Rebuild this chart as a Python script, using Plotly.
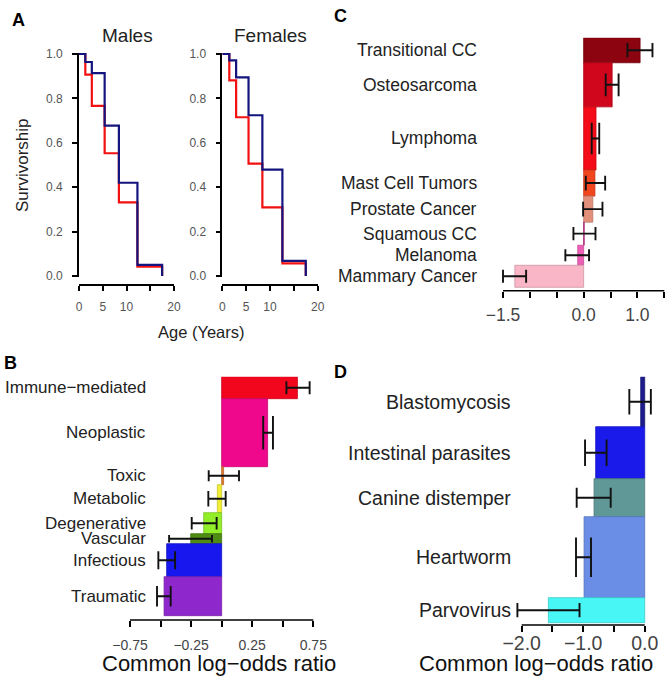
import plotly.graph_objects as go

W, H = 672, 682
FONT = "Liberation Sans, Arial, Helvetica, sans-serif"

# ---------------- data ----------------
# Panel A: survivorship (Kaplan-Meier style steps)
male_age = [0, 1.33, 2.7, 5.4, 8.4, 12.3, 17.5]
male_red = [1.0, 0.907, 0.766, 0.553, 0.332, 0.042, 0.0]
male_blue = [1.0, 0.964, 0.914, 0.677, 0.42, 0.05, 0.0]
female_age = [0, 1.47, 2.9, 5.5, 8.4, 12.6, 17.5]
female_red = [1.0, 0.881, 0.715, 0.506, 0.309, 0.057, 0.0]
female_blue = [1.0, 0.971, 0.895, 0.724, 0.479, 0.068, 0.0]
age_ticks = [0, 5, 10, 15, 20]
age_ticktext = ["0", "5", "10", "", "20"]
surv_ticks = [0, 0.2, 0.4, 0.6, 0.8, 1.0]

# Panel B: causes of death by organ-system process
b_labels = ["Immune\u2212mediated", "Neoplastic", "Toxic", "Metabolic",
            "Degenerative", "Vascular", "Infectious", "Traumatic"]
b_vals = [0.62, 0.376, 0.016, -0.035, -0.147, -0.253, -0.45, -0.471]
b_lo = [0.53, 0.34, -0.106, -0.109, -0.245, -0.43, -0.518, -0.529]
b_hi = [0.72, 0.42, 0.142, 0.033, -0.041, -0.079, -0.381, -0.417]
b_weight = [22, 68, 18, 28, 21, 10, 33, 39]
b_colors = ["#F2061E", "#F0088C", "#E27A30", "#F2EE36",
            "#92EE28", "#4E8C14", "#1818EE", "#8E28CC"]
b_ticks = [-0.75, -0.5, -0.25, 0, 0.25, 0.5, 0.75]
b_ticktext = ["\u22120.75", "", "\u22120.25", "", "0.25", "", "0.75"]

# Panel C: cancers
c_labels = ["Transitional CC", "Osteosarcoma", "Lymphoma", "Mast Cell Tumors",
            "Prostate Cancer", "Squamous CC", "Melanoma", "Mammary Cancer"]
c_vals = [1.05, 0.53, 0.23, 0.21, 0.17, 0.01, -0.11, -1.28]
c_lo = [0.815, 0.41, 0.15, 0.04, -0.01, -0.19, -0.34, -1.5]
c_hi = [1.28, 0.65, 0.29, 0.40, 0.35, 0.22, 0.10, -1.07]
c_weight = [25, 44, 63, 26, 26, 23, 20, 22]
c_colors = ["#8C0410", "#D0061C", "#F40C18", "#F2461E",
            "#E2907A", "#C8248C", "#EE5EB6", "#F8B6C6"]
c_ticks = [-1.5, -1.0, -0.5, 0, 0.5, 1.0, 1.5]
c_ticktext = ["\u22121.5", "", "", "0.0", "", "1.0", ""]

# Panel D: infectious diseases
d_labels = ["Blastomycosis", "Intestinal parasites", "Canine distemper",
            "Heartworm", "Parvovirus"]
d_vals = [-0.065, -0.797, -0.824, -0.986, -1.566]
d_lo = [-0.25, -0.97, -1.106, -1.117, -2.07]
d_hi = [0.10, -0.62, -0.553, -0.873, -1.06]
d_weight = [50, 52, 38, 81, 25]
d_colors = ["#1C1C8C", "#1A1AEA", "#609898", "#6A8EE6", "#48F6F6"]
d_ticks = [-2.0, -1.5, -1.0, -0.5, 0.0]
d_ticktext = ["\u22122.0", "", "\u22121.0", "", "0.0"]


def darker(hex_col, f=0.82):
    r, g, b = (int(hex_col[i:i + 2], 16) for i in (1, 3, 5))
    return "rgb(%d,%d,%d)" % (r * f, g * f, b * f)


def px_x(p):
    return p / W


def px_y(p):
    return 1 - p / H


fig = go.Figure()
layout = dict(
    width=W, height=H, margin=dict(l=0, r=0, t=0, b=0, autoexpand=False),
    paper_bgcolor="white", plot_bgcolor="white",
    showlegend=False, barmode="overlay",
    font=dict(family=FONT, color="#222"),
)
shapes = []
annotations = []

# ---------------- Panel A ----------------
a_y0, a_y1 = 276, 54            # pixel rows of 0.0 and 1.0
a_pad = 0.006
a_ppu = (a_y0 - a_y1)
a_ydom = [px_y(a_y0 + a_pad * a_ppu), px_y(a_y1 - a_pad * a_ppu)]

panels_a = [("", male_age, male_red, male_blue, (79, 174)),
            ("2", female_age, female_red, female_blue, (222.3, 317.7))]
for k, age, red, blue, (xl, xr) in panels_a:
    fig.add_trace(go.Scatter(x=age, y=red, mode="lines", line_shape="hv",
                             line=dict(color="#F21010", width=2.2),
                             xaxis="x" + k, yaxis="y" + k))
    fig.add_trace(go.Scatter(x=age, y=blue, mode="lines", line_shape="hv",
                             line=dict(color="#14147E", width=2.2),
                             xaxis="x" + k, yaxis="y" + k))
    layout["xaxis" + k] = dict(
        domain=[px_x(xl), px_x(xr)], range=[0, 20], anchor="free",
        position=px_y(285), showline=True, linecolor="black", linewidth=1.6,
        ticks="outside", ticklen=5, tickwidth=1.6, tickcolor="black",
        tickvals=age_ticks, ticktext=age_ticktext, showgrid=False,
        zeroline=False, tickfont=dict(size=12, color="#555"),
        ticklabelstandoff=6, automargin=False)
    layout["yaxis" + k] = dict(
        domain=a_ydom, range=[-a_pad, 1 + a_pad], anchor="x" + k,
        showline=True, linecolor="black", linewidth=1.6,
        ticks="outside", ticklen=5, tickwidth=1.6, tickcolor="black",
        tickvals=surv_ticks, tickformat=".1f", showgrid=False, zeroline=False,
        tickfont=dict(size=12, color="#555"), ticklabelstandoff=7,
        automargin=False)


# ---------------- Bar panels ----------------
def bar_panel(k, labels, vals, lo, hi, weight, colors, ticks, ticktext,
              tick_px, bar_px, axis_px, label_right, tick_size, label_size,
              tick_standoff):
    span = ticks[-1] - ticks[0]
    r0 = min(ticks[0], min(lo)) - 0.03 * span
    r1 = max(ticks[-1], max(hi)) + 0.03 * span
    xppu = (tick_px[1] - tick_px[0]) / span
    dom_l = tick_px[0] + (r0 - ticks[0]) * xppu
    dom_r = tick_px[0] + (r1 - ticks[0]) * xppu

    total = sum(weight)
    yppu = (bar_px[1] - bar_px[0]) / total
    y_bottom = total + (axis_px - bar_px[1]) / yppu
    centers = []
    acc = 0
    for w in weight:
        centers.append(acc + w / 2)
        acc += w

    for lab, v, l, h, w, c, yc in zip(labels, vals, lo, hi, weight, colors,
                                      centers):
        fig.add_trace(go.Bar(
            x=[v], y=[yc], width=[w], orientation="h", base=0,
            marker=dict(color=c, line=dict(color=darker(c), width=0.8)),
            error_x=dict(type="data", array=[h - v], arrayminus=[v - l],
                         width=(0.45 * w * yppu + 3) / 2, thickness=1.9,
                         color="#111"),
            xaxis="x" + k, yaxis="y" + k, name=lab))
        # category label, right-aligned left of the bars (R barplot names)
        annotations.append(dict(
            text=lab, x=px_x(label_right), xref="paper", xanchor="right",
            y=yc, yref="y" + k, yanchor="middle", showarrow=False,
            font=dict(family=FONT, size=label_size, color="#222")))

    layout["xaxis" + k] = dict(
        domain=[px_x(dom_l), px_x(dom_r)], range=[r0, r1], anchor="y" + k,
        showline=False, showgrid=False, zeroline=False,
        ticks="outside", ticklen=6, tickwidth=1.6, tickcolor="black",
        tickvals=ticks, ticktext=ticktext,
        tickfont=dict(size=tick_size, color="#444"),
        ticklabelstandoff=tick_standoff, automargin=False)
    layout["yaxis" + k] = dict(
        domain=[px_y(axis_px), px_y(bar_px[0])], range=[y_bottom, 0],
        anchor="x" + k, showline=False, showgrid=False, zeroline=False,
        ticks="", showticklabels=False, automargin=False)
    # axis line only across the tick span, R style
    shapes.append(dict(type="line", xref="x" + k, yref="paper",
                       x0=ticks[0], x1=ticks[-1],
                       y0=px_y(axis_px), y1=px_y(axis_px),
                       line=dict(color="black", width=1.6)))


bar_panel("3", b_labels, b_vals, b_lo, b_hi, b_weight, b_colors,
          b_ticks, b_ticktext, (130, 313.3), (376.7, 615.7), 620, 148.3,
          14, 17, 6)
bar_panel("4", c_labels, c_vals, c_lo, c_hi, c_weight, c_colors,
          c_ticks, c_ticktext, (503, 664.3), (37.7, 287.3), 290.7, 479,
          17.5, 17.5, 2)
bar_panel("5", d_labels, d_vals, d_lo, d_hi, d_weight, d_colors,
          d_ticks, d_ticktext, (521.7, 644.7), (376.7, 622.7), 625, 513.3,
          19.5, 19.5, -5)


# ---------------- text ----------------
def note(text, x, y, size, bold=False, angle=0, color="#222"):
    annotations.append(dict(
        text="<b>%s</b>" % text if bold else text, x=px_x(x), y=px_y(y),
        xref="paper", yref="paper", xanchor="center", yanchor="middle",
        showarrow=False, textangle=angle,
        font=dict(family=FONT, size=size, color=color)))


note("A", 18.5, 20.5, 18, bold=True, color="black")
note("B", 10.5, 363, 18, bold=True, color="black")
note("C", 340, 16.5, 18, bold=True, color="black")
note("D", 340, 372, 18, bold=True, color="black")
note("Males", 127, 36, 19)
note("Females", 270, 36, 19)
note("Survivorship", 22, 165, 17, angle=-90)
note("Age (Years)", 201, 332, 16.5)
note("Common log\u2212odds ratio", 219, 663, 22, color="#111")
note("Common log\u2212odds ratio", 536, 663, 22, color="#111")

layout["shapes"] = shapes
layout["annotations"] = annotations
fig.update_layout(**layout)

# drop the browser's default 8px body margin so the figure sits at 0,0
fig.write_html("out.html", config={"displayModeBar": False},
               post_script="document.body.style.margin = '0';")
